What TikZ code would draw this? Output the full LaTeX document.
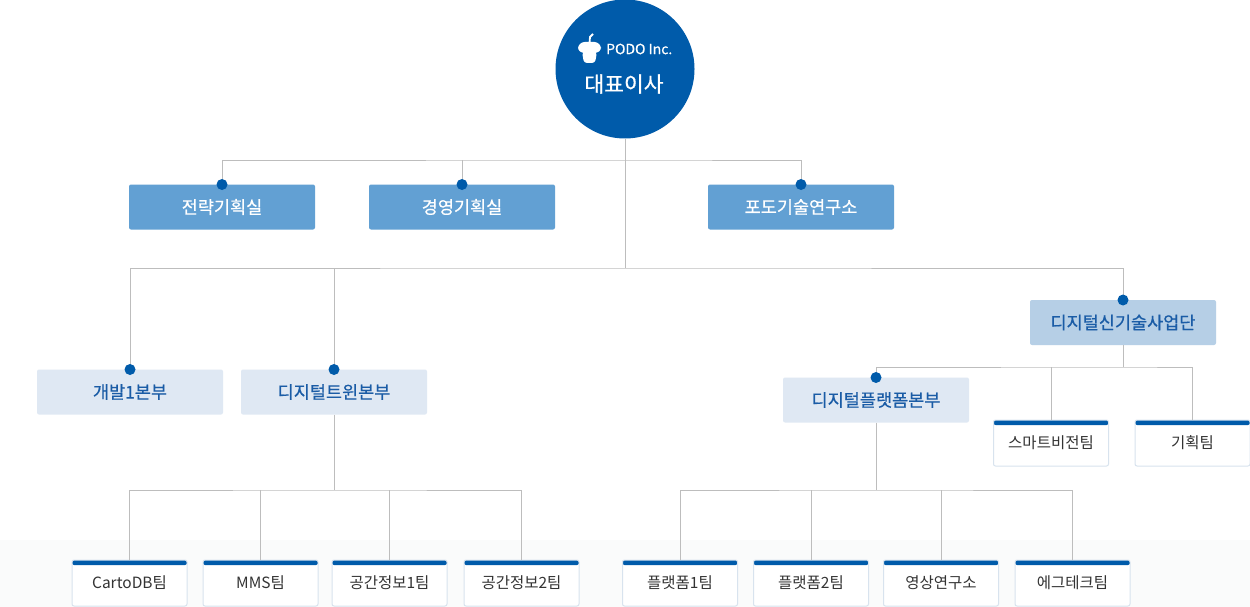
\documentclass[tikz,border=0pt]{standalone}
\usepackage{fontspec}
\setmainfont{Noto Sans CJK KR}
\newfontfamily\midfont[FakeBold=0.6]{Noto Sans CJK KR}
\usepackage{tikz}

\definecolor{podoblue}{HTML}{005BAA}
\definecolor{officeblue}{HTML}{62A0D3}
\definecolor{grouplight}{HTML}{B6CFE6}
\definecolor{divpale}{HTML}{DFE8F3}
\definecolor{divtext}{HTML}{1A5CA6}
\definecolor{linegray}{HTML}{BDBDBD}
\definecolor{teamline}{HTML}{D8E3EE}
\definecolor{teamtext}{HTML}{333333}
\definecolor{bgfade}{HTML}{FAFBFB}

\begin{document}
\begin{tikzpicture}[x=1pt,y=-1pt,
    conn/.style={draw=linegray,line width=1pt},
    unitbox/.style={rounded corners=2pt,minimum width=186pt,minimum height=45pt,inner sep=0pt,outer sep=0pt,font=\midfont\fontsize{17.5}{20}\selectfont},
    officebox/.style={unitbox,fill=officeblue,text=white},
    groupbox/.style={unitbox,fill=grouplight,text=divtext},
    divbox/.style={unitbox,fill=divpale,text=divtext},
    teambox/.style={draw=teamline,fill=white,line width=1pt,rounded corners=2pt,minimum width=115pt,minimum height=46pt,inner sep=0pt,outer sep=0pt,
      text=teamtext,font=\fontsize{15.5}{18}\selectfont,
      path picture={\fill[podoblue] (path picture bounding box.north west) rectangle ([yshift=-5pt]path picture bounding box.north east);}},
    dot/.style={fill=podoblue}]
    \useasboundingbox (0,0) rectangle (1250,607);
    \fill[white] (0,0) rectangle (1250,540);
    \fill[bgfade] (0,540) rectangle (1250,607);

    % top
    \node[circle,fill=podoblue,minimum size=139pt,inner sep=0pt] (ceo) at (625,69) {};
    \fill[white,rounded corners=2.5pt] (578,46) -- (582,42) -- (597,42) -- (601,46) -- (601,50) -- (597,53) -- (582,53) -- (578,50) -- cycle;
    \fill[white,rounded corners=3pt] (582,52) -- (597,52) -- (595,63) -- (584,63) -- cycle;
    \draw[white,line width=1.8pt] (589.5,43) -- (590,37) -- (593,34);
    \node[anchor=west,text=white,font=\midfont\fontsize{14}{16}\selectfont,inner sep=0pt] (brand) at (606,49) {PODO Inc.};
    \node[text=white,font=\midfont\fontsize{21.5}{24}\selectfont,inner sep=0pt] (title) at (624,84) {대표이사};

    \node[officebox] (plan) at (222,207) {전략기획실};
    \node[officebox] (mgmt) at (462,207) {경영기획실};
    \node[officebox] (lab) at (801,207) {포도기술연구소};

    \node[divbox] (dev) at (130,392) {개발1본부};
    \node[divbox] (twin) at (334,392) {디지털트윈본부};
    \node[groupbox] (newtech) at (1123,322.5) {디지털신기술사업단};
    \node[divbox] (platform) at (876,400) {디지털플랫폼본부};

    \node[teambox] (vision) at (1051,443) {스마트비전팀};
    \node[teambox] (planteam) at (1192.5,443) {기획팀};
    \foreach \n/\x/\t in {carto/129.5/CartoDB팀,mms/260.5/MMS팀,geo1/389.5/공간정보1팀,geo2/521.5/공간정보2팀,
                          pf1/680/플랫폼1팀,pf2/811/플랫폼2팀,video/941/영상연구소,agri/1072.5/에그테크팀}
        \node[teambox] (\n) at (\x,583) {\t};

    % lines
    \coordinate (j1) at (625,160);
    \coordinate (j2) at (625,268);
    \coordinate (j3) at (334,490);
    \coordinate (j4) at (1123,367);
    \coordinate (j5) at (876,490);
    \draw[conn] (ceo.south) -- (j2);
    \draw[conn] (plan.north) |- (j1) -| (lab.north);
    \draw[conn] (mgmt.north) -- (mgmt.north |- j1);
    \draw[conn] (dev.north) |- (j2) -| (newtech.north);
    \draw[conn] (twin.north) -- (twin.north |- j2);
    \draw[conn] (twin.south) -- (j3);
    \draw[conn] (carto.north) |- (j3) -| (geo2.north);
    \draw[conn] (newtech.south) -- (j4);
    \draw[conn] (platform.north) |- (j4) -| (planteam.north);
    \draw[conn] (vision.north) -- (vision.north |- j4);
    \draw[conn] (platform.south) -- (j5);
    \draw[conn] (pf1.north) |- (j5) -| (agri.north);
    \foreach \n in {mms,geo1,pf2,video}
        \draw[conn] (\n.north) -- (\n.north |- j3);

    \foreach \n in {plan,mgmt,lab,dev,twin,newtech,platform}
        \fill[dot] (\n.north) circle (5.5pt);
\end{tikzpicture}
\end{document}
